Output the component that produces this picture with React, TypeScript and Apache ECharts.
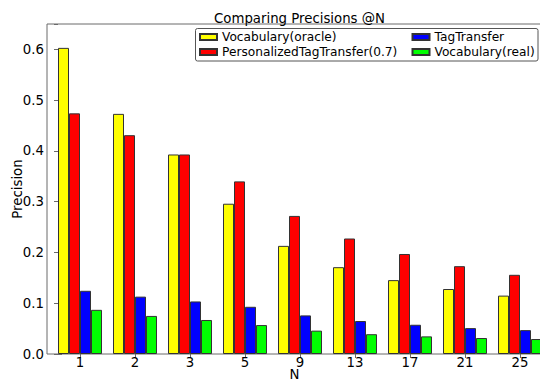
import React, { useEffect, useRef } from "react";
import * as echarts from "echarts";

const nLabels = ["1", "2", "3", "5", "9", "13", "17", "21", "25"];
const vocabOracle = [0.603, 0.473, 0.393, 0.296, 0.213, 0.171, 0.1455, 0.128, 0.115];
const personalized = [0.474, 0.431, 0.393, 0.34, 0.272, 0.2275, 0.197, 0.173, 0.156];
const tagTransfer = [0.1245, 0.113, 0.1035, 0.093, 0.076, 0.065, 0.0576, 0.051, 0.047];
const vocabReal = [0.087, 0.075, 0.067, 0.057, 0.046, 0.039, 0.0347, 0.0315, 0.0295];
const seriesNames = [
  "Vocabulary(oracle)",
  "PersonalizedTagTransfer(0.7)",
  "TagTransfer",
  "Vocabulary(real)",
];
const seriesColors = ["#ffff00", "#ff0000", "#0000ff", "#00ff00"];

const FONT = "DejaVu Sans";
const GROUP_OFFSET = 0.4;
const tickPositions = nLabels.map((_, i) => i + GROUP_OFFSET);

export default function App() {
  const ref = useRef<HTMLDivElement>(null);
  useEffect(() => {
    if (!ref.current) return;
    const chart = echarts.init(ref.current, null, { renderer: "svg" });
    const allValues = [vocabOracle, personalized, tagTransfer, vocabReal];
    const axisColor = "#6a6a6a";
    const labelFormatter = (v: number) => nLabels[Math.round(v - GROUP_OFFSET)] ?? "";
    chart.setOption({
      animation: false,
      textStyle: { fontFamily: FONT },
      title: {
        text: "Comparing Precisions @N",
        left: 294.5,
        top: 7,
        textAlign: "center",
        textStyle: { fontFamily: FONT, fontSize: 13.3, fontWeight: "normal", color: "#000" },
      },
      grid: {
        left: 47,
        top: 24,
        width: 495,
        height: 330,
        containLabel: false,
        outerBoundsMode: "none",
        show: true,
        borderColor: axisColor,
        borderWidth: 1,
        backgroundColor: "transparent",
      },
      legend: [
        {
          data: [seriesNames[0], seriesNames[1]],
          orient: "vertical",
          left: 199,
          top: 31,
          padding: 0,
          itemGap: 3,
          itemWidth: 17,
          itemHeight: 6,
          icon: "rect",
          selectedMode: false,
          textStyle: { fontFamily: FONT, fontSize: 12.2, color: "#000" },
          z: 5,
        },
        {
          data: [seriesNames[2], seriesNames[3]],
          orient: "vertical",
          left: 411.5,
          top: 31,
          padding: 0,
          itemGap: 3,
          itemWidth: 17,
          itemHeight: 6,
          icon: "rect",
          selectedMode: false,
          textStyle: { fontFamily: FONT, fontSize: 12.2, color: "#000" },
          z: 5,
        },
      ],
      graphic: [
        {
          type: "rect",
          z: 4,
          shape: { x: 195.5, y: 28.5, width: 342.5, height: 32.5, r: 2 },
          style: { fill: "#fff", stroke: "#555", lineWidth: 1 },
        },
      ],
      xAxis: [
        {
          type: "value",
          position: "bottom",
          min: -0.2,
          max: 8.8,
          name: "N",
          nameLocation: "middle",
          nameGap: 15,
          nameMoveOverlap: false,
          nameTextStyle: { fontFamily: FONT, fontSize: 13.3, lineHeight: 11, color: "#000" },
          axisLine: { show: false },
          splitLine: { show: false },
          axisTick: {
            show: true,
            inside: true,
            length: 4,
            customValues: tickPositions,
            lineStyle: { color: axisColor },
          },
          axisLabel: {
            customValues: tickPositions,
            formatter: labelFormatter,
            margin: 2,
            lineHeight: 13,
            fontFamily: FONT,
            fontSize: 13.3,
            color: "#000",
          },
        },
        {
          type: "value",
          position: "top",
          min: -0.2,
          max: 8.8,
          axisLine: { show: false },
          splitLine: { show: false },
          axisTick: {
            show: true,
            inside: true,
            length: 4,
            customValues: tickPositions,
            lineStyle: { color: axisColor },
          },
          axisLabel: { show: false },
        },
      ],
      yAxis: [
        {
          type: "value",
          position: "left",
          min: 0,
          max: 0.65,
          interval: 0.1,
          name: "Precision",
          nameLocation: "middle",
          nameGap: 23,
          nameMoveOverlap: false,
          nameTextStyle: { fontFamily: FONT, fontSize: 13.3, color: "#000" },
          axisLine: { show: false },
          splitLine: { show: false },
          axisTick: { show: true, inside: true, length: 4, lineStyle: { color: axisColor } },
          axisLabel: {
            formatter: (v: number) => v.toFixed(1),
            showMaxLabel: false,
            margin: 3,
            fontFamily: FONT,
            fontSize: 13.3,
            color: "#000",
          },
        },
        {
          type: "value",
          position: "right",
          min: 0,
          max: 0.65,
          interval: 0.1,
          axisLine: { show: false },
          splitLine: { show: false },
          axisTick: { show: true, inside: true, length: 4, lineStyle: { color: axisColor } },
          axisLabel: { show: false },
        },
      ],
      series: allValues.map((vals, si) => ({
        type: "bar",
        name: seriesNames[si],
        xAxisIndex: 0,
        yAxisIndex: 0,
        barWidth: 11,
        barGap: "0%",
        itemStyle: { color: seriesColors[si], borderColor: "#333", borderWidth: 1 },
        data: vals.map((v, i) => [i + GROUP_OFFSET, v]),
      })),
    });
    return () => chart.dispose();
  }, []);
  return (
    <div
      ref={ref}
      style={{ position: "fixed", left: 0, top: 0, width: 540, height: 380, background: "#fff" }}
    />
  );
}
